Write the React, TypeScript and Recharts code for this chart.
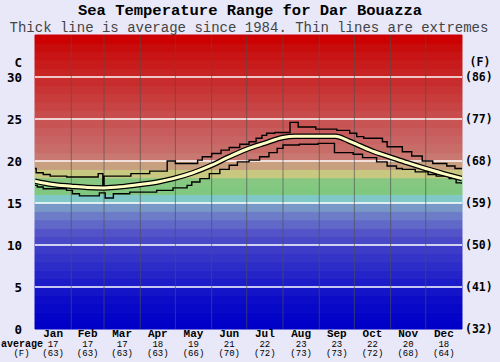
import React from 'react';
import { ComposedChart, Line, XAxis, YAxis, ReferenceArea, ReferenceLine } from 'recharts';

const months = ['Jan', 'Feb', 'Mar', 'Apr', 'May', 'Jun', 'Jul', 'Aug', 'Sep', 'Oct', 'Nov', 'Dec'];
const monthStartDays = [0, 31, 59, 90, 120, 151, 181, 212, 243, 273, 304, 334, 365];
const monthAvgC = ['17', '17', '17', '18', '19', '21', '22', '23', '23', '22', '20', '18'];
const monthAvgF = ['(63)', '(63)', '(63)', '(63)', '(66)', '(70)', '(72)', '(73)', '(73)', '(72)', '(68)', '(64)'];
const celsiusTicks = [0, 5, 10, 15, 20, 25, 30];
const fahrenheitLabels = ['(32)', '(41)', '(50)', '(59)', '(68)', '(77)', '(86)'];

// one colour per 1°C band, starting at 0°C
const bandColors = [
  '#0000c8', '#0404c8', '#0808c8', '#0c0cc8', '#1414c8',
  '#1c1cc8', '#2424c8', '#2c2cc8', '#3434c8', '#3c3cc8',
  '#4848c8', '#5454c8', '#6068c8', '#6c7cc8', '#7898c8',
  '#80c8c8', '#80c880', '#86c882', '#c8c880', '#c8a080',
  '#c87870', '#c86c68', '#c86464', '#c85c5c', '#c85454',
  '#c84c4c', '#c84444', '#c83c3c', '#c83434', '#c82c2c',
  '#c82424', '#c81c1c', '#c81414', '#c80c0c', '#cc0000',
];

const avgDays = [0, 15, 31, 45, 59, 75, 90, 105, 118, 135, 151, 166, 181, 196, 212, 222, 257, 268, 278, 290, 303, 318, 334, 349, 365];
const avgTemps = [17.6, 17.2, 17.0, 16.85, 16.8, 16.95, 17.2, 17.5, 17.9, 18.6, 19.5, 20.5, 21.4, 22.1, 22.8, 22.95, 22.95, 22.4, 21.8, 21.1, 20.5, 19.8, 19.1, 18.5, 17.9];

const maxDays = [0, 1, 7, 13, 27, 54, 58, 59, 82, 98, 113, 120, 139, 143, 151, 159, 166, 175, 183, 189, 194, 198, 205, 218, 225, 240, 258, 269, 275, 281, 297, 301, 314, 322, 331, 340, 352, 359, 365];
const maxTemps = [19.1, 18.6, 18.4, 18.2, 18.1, 18.5, 17.0, 18.2, 18.5, 18.8, 20.0, 19.7, 20.1, 20.5, 20.9, 21.3, 21.6, 22.0, 22.3, 22.7, 23.05, 23.3, 23.4, 24.6, 24.05, 23.8, 23.65, 23.3, 22.9, 22.7, 22.3, 21.7, 21.1, 20.6, 20.0, 19.7, 19.4, 19.1, 19.1];

const minDays = [0, 2, 7, 27, 32, 38, 55, 60, 67, 81, 104, 118, 130, 134, 141, 149, 158, 166, 173, 183, 192, 200, 207, 212, 226, 242, 256, 272, 280, 292, 301, 309, 314, 325, 336, 343, 354, 360, 365];
const minTemps = [17.1, 16.9, 16.7, 16.5, 16.1, 15.85, 16.2, 15.6, 16.1, 16.3, 16.5, 16.8, 17.1, 17.5, 17.9, 18.5, 19.0, 19.5, 19.9, 20.1, 20.5, 21.0, 21.5, 21.9, 22.0, 22.1, 21.0, 20.8, 20.4, 19.9, 19.4, 19.1, 19.0, 18.7, 18.4, 18.2, 17.9, 17.4, 17.3];

const avgData = avgDays.map((d, i) => ({ day: d, t: avgTemps[i] }));
const maxData = maxDays.map((d, i) => ({ day: d, t: maxTemps[i] }));
const minData = minDays.map((d, i) => ({ day: d, t: minTemps[i] }));
const monthMidDays = months.map((_, i) => (monthStartDays[i] + monthStartDays[i + 1]) / 2);

const MONO = '"Liberation Mono", "DejaVu Sans Mono", monospace';
const AXMONO = '"DejaVu Sans Mono", "Liberation Mono", monospace';

const MonthTick = (props: any) => {
  const { x, y, payload } = props;
  const i = monthMidDays.indexOf(payload.value);
  if (i < 0) return null;
  return (
    <g>
      <text x={x} y={y + 8} textAnchor="middle" fontFamily={MONO} fontWeight="bold" fontSize={11} fill="#000">{months[i]}</text>
      <text x={x} y={y + 17.5} textAnchor="middle" fontFamily={MONO} fontSize={9} fill="#000">{monthAvgC[i]}</text>
      <text x={x} y={y + 26.5} textAnchor="middle" fontFamily={MONO} fontSize={9} fill="#000">{monthAvgF[i]}</text>
    </g>
  );
};

const CTick = (props: any) => {
  const { x, y, payload } = props;
  return (
    <text x={x} y={y} dy="0.36em" textAnchor="end" fontFamily={AXMONO} fontWeight="bold" fontSize={12.5} fill="#000">
      {payload.value}
    </text>
  );
};

const FTick = (props: any) => {
  const { x, y, payload } = props;
  const i = celsiusTicks.indexOf(payload.value);
  return (
    <text x={x} y={y} dy="0.36em" textAnchor="start" fontFamily={AXMONO} fontWeight="bold" fontSize={11.5} fill="#000">
      {fahrenheitLabels[i]}
    </text>
  );
};

export default function App() {
  return (
    <div style={{ position: 'absolute', left: 0, top: 0, width: 500, height: 362, background: '#e8e8f8', overflow: 'hidden' }}>
      <ComposedChart width={500} height={362} margin={{ top: 35, right: 0, bottom: 0, left: 0 }}>
        <XAxis
          dataKey="day"
          type="number"
          domain={[0, 365]}
          ticks={monthMidDays}
          interval={0}
          height={33}
          tickSize={0}
          tickMargin={0}
          axisLine={false}
          tickLine={false}
          tick={<MonthTick />}
          allowDataOverflow
        />
        <YAxis yAxisId="c" domain={[0, 35]} ticks={celsiusTicks} width={35} tickSize={0} tickMargin={13} axisLine={false} tickLine={false} tick={<CTick />} interval={0} allowDataOverflow />
        <YAxis yAxisId="f" orientation="right" domain={[0, 35]} ticks={celsiusTicks} width={38} tickSize={0} tickMargin={3} axisLine={false} tickLine={false} tick={<FTick />} interval={0} allowDataOverflow />
        {bandColors.map((c, i) => (
          <ReferenceArea key={'b' + i} yAxisId="c" y1={i} y2={i + 1} fill={c} fillOpacity={1} stroke={c} strokeWidth={1} />
        ))}
        {celsiusTicks.slice(1).map((v) => (
          <ReferenceLine key={'h' + v} yAxisId="c" y={v} stroke="#ffffff" strokeWidth={1.6} />
        ))}
        {monthStartDays.slice(1, 12).map((d) => (
          <ReferenceLine key={'v' + d} yAxisId="c" x={d} stroke="#505050" strokeOpacity={0.65} strokeWidth={1} />
        ))}
        <Line yAxisId="c" data={maxData} dataKey="t" type="stepAfter" stroke="#000" strokeWidth={1.4} dot={false} activeDot={false} isAnimationActive={false} />
        <Line yAxisId="c" data={minData} dataKey="t" type="stepAfter" stroke="#000" strokeWidth={1.4} dot={false} activeDot={false} isAnimationActive={false} />
        <Line yAxisId="c" data={avgData} dataKey="t" type="monotone" stroke="#000" strokeWidth={5.5} dot={false} activeDot={false} isAnimationActive={false} />
        <Line yAxisId="c" data={avgData} dataKey="t" type="monotone" stroke="#ffffc4" strokeWidth={3} dot={false} activeDot={false} isAnimationActive={false} />
      </ComposedChart>
      <svg width={500} height={362} style={{ position: 'absolute', left: 0, top: 0, pointerEvents: 'none' }}>
        <text x={250} y={15} textAnchor="middle" fontFamily={MONO} fontWeight="bold" fontSize={15.5} fill="#000">Sea Temperature Range for Dar Bouazza</text>
        <text x={249} y={31.5} textAnchor="middle" fontFamily={MONO} fontSize={14} fill="#444">Thick line is average since 1984. Thin lines are extremes</text>
        <text x={22} y={62} dy="0.36em" textAnchor="end" fontFamily={AXMONO} fontWeight="bold" fontSize={12.5} fill="#000">C</text>
        <text x={480} y={62} dy="0.36em" textAnchor="middle" fontFamily={AXMONO} fontWeight="bold" fontSize={11.5} fill="#000">(F)</text>
        <text x={22} y={346.5} textAnchor="middle" fontFamily={MONO} fontWeight="bold" fontSize={10} fill="#000">average</text>
        <text x={21.5} y={355.5} textAnchor="middle" fontFamily={MONO} fontSize={9} fill="#000">(F)</text>
      </svg>
    </div>
  );
}
